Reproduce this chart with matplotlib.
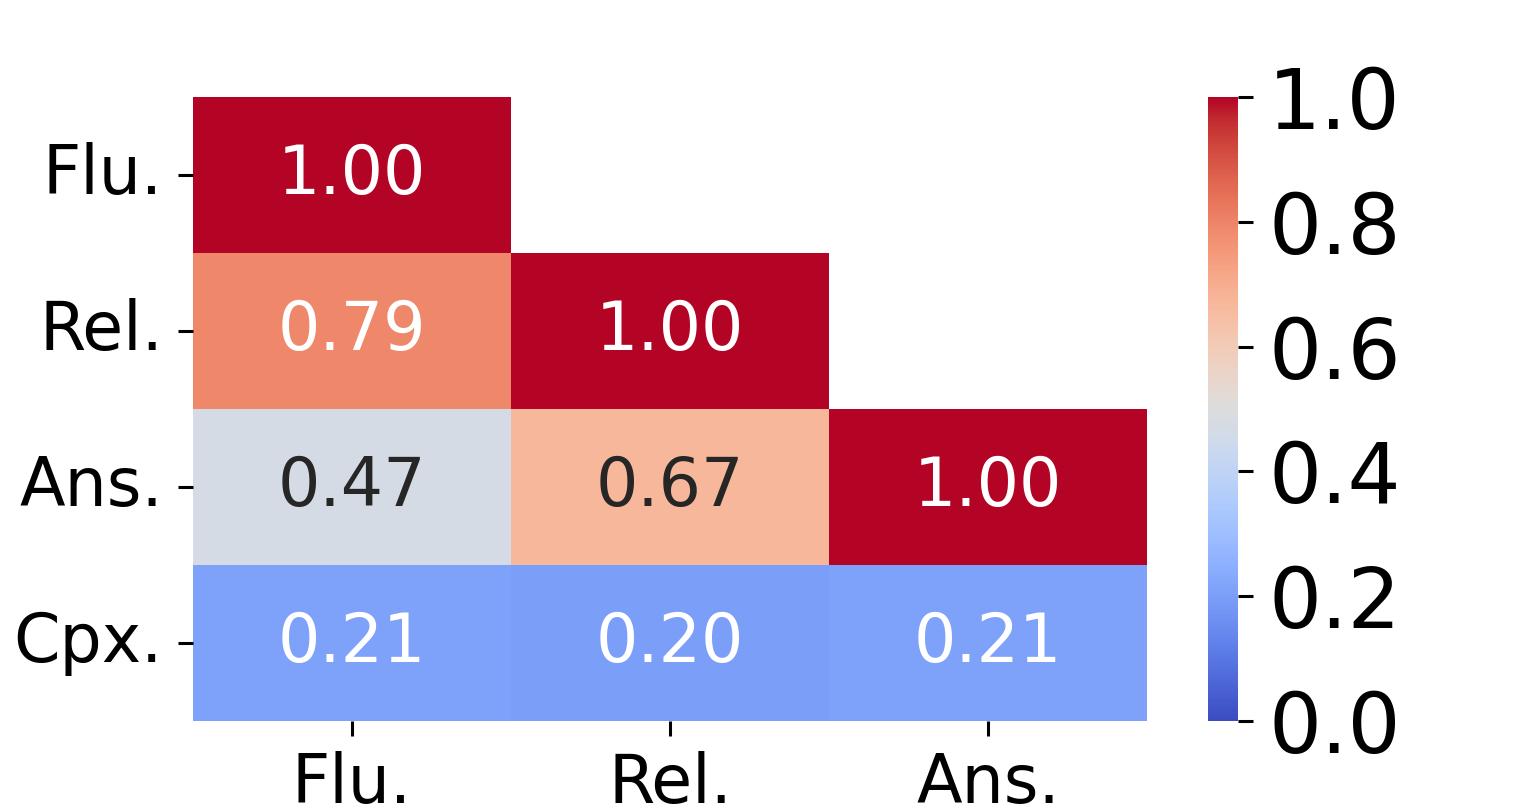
import numpy as np
import matplotlib
matplotlib.use("Agg")
import matplotlib.pyplot as plt
import seaborn as sns

row_labels = ["Flu.", "Rel.", "Ans.", "Cpx."]
col_labels = ["Flu.", "Rel.", "Ans."]
corr = np.array([
    [1.00, np.nan, np.nan],
    [0.79, 1.00, np.nan],
    [0.47, 0.67, 1.00],
    [0.21, 0.20, 0.21],
])
mask = np.isnan(corr)

fig = plt.figure(figsize=(7.7, 4.055), dpi=200)
ax = fig.add_axes([0.1253, 0.111, 0.6195, 0.7694])
cax = fig.add_axes([0.7844, 0.111, 0.0195, 0.7694])

sns.heatmap(corr, mask=mask, cmap="coolwarm", vmin=0, vmax=1, annot=True, fmt=".2f",
            annot_kws={"size": 24}, xticklabels=col_labels, yticklabels=row_labels,
            ax=ax, cbar_ax=cax)

# ticks look like default ones drawn at a higher dpi
ax.tick_params(axis="both", labelsize=24, length=5.4, width=1.1, pad=5.4)
ax.set_yticklabels(row_labels, rotation=0)
ax.set_xticklabels(col_labels, rotation=0)
cax.tick_params(labelsize=30, length=5.4, width=1.1, pad=5.4)
cax.set_yticks([0, 0.2, 0.4, 0.6, 0.8, 1.0])
cax.set_yticklabels(["0.0", "0.2", "0.4", "0.6", "0.8", "1.0"])

fig.savefig("out.png", dpi=200)
